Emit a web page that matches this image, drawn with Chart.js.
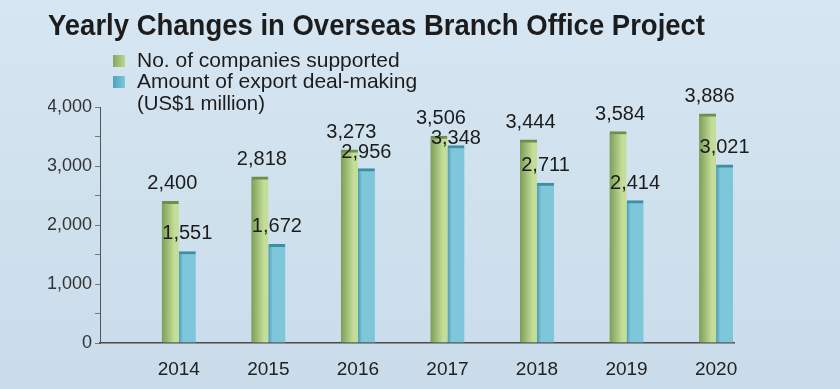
<!DOCTYPE html>
<html>
<head>
<meta charset="utf-8">
<script src="https://cdn.jsdelivr.net/npm/chart.js@4"></script>
<style>
  html, body { margin: 0; padding: 0; background: #d0e1ef; }
  #wrap { width: 840px; height: 389px; }
</style>
</head>
<body>
<div id="wrap"><canvas id="canvas-chart"></canvas></div>
<script>
const years = [2014, 2015, 2016, 2017, 2018, 2019, 2020];
const companies = [2400, 2818, 3273, 3506, 3444, 3584, 3886];
const exportDeals = [1551, 1672, 2956, 3348, 2711, 2414, 3021];
const yTicks = [0, 1000, 2000, 3000, 4000];

const chartTitle = 'Yearly Changes in Overseas Branch Office Project';
const legendLines = ['No. of companies supported', 'Amount of export deal-making', '(US$1 million)'];

const FONT = '"Liberation Sans", Arial, sans-serif';

// horizontal shading across each bar, like the printed 3D bars
function barFill(dark, light, side) {
    return (c) => {
        const chart = c.chart;
        if (!chart.chartArea || c.dataIndex === undefined) return light;
        const cx = chart.scales.x.getPixelForValue(years[c.dataIndex]);
        const x0 = side === 0 ? cx - 17 : cx;
        const g = chart.ctx.createLinearGradient(x0, 0, x0 + 17, 0);
        g.addColorStop(0, dark);
        g.addColorStop(side === 0 ? 0.75 : 0.25, light);
        g.addColorStop(1, light);
        return g;
    };
}

const pagePlugin = {
    id: 'page',
    beforeDraw(chart) {
        const {ctx, width, height} = chart;
        const g = ctx.createLinearGradient(0, 0, 0, height);
        g.addColorStop(0, '#d6e6f2');
        g.addColorStop(1, '#cadcea');
        ctx.save();
        ctx.fillStyle = g;
        ctx.fillRect(0, 0, width, height);
        ctx.restore();
    },
    afterDraw(chart) {
        const ctx = chart.ctx;
        ctx.save();
        // title
        ctx.fillStyle = '#1c1c1c';
        ctx.font = 'bold 30px ' + FONT;
        ctx.textBaseline = 'alphabetic';
        ctx.textAlign = 'left';
        ctx.fillText(chartTitle, 48, 35, 657);

        // legend
        const sq = [['#86a660', '#bcd890'], ['#4fa3ba', '#80c8dc']];
        ctx.font = '21px ' + FONT;
        const rows = [67, 88, 110];
        const widths = [266, 295, 128];
        for (let i = 0; i < 2; i++) {
            const g = ctx.createLinearGradient(113, 0, 125, 0);
            g.addColorStop(0, sq[i][0]);
            g.addColorStop(1, sq[i][1]);
            ctx.fillStyle = g;
            ctx.fillRect(113, rows[i] - 12, 12, 12);
        }
        ctx.fillStyle = '#1c1c1c';
        legendLines.forEach((t, i) => ctx.fillText(t, 137, rows[i], widths[i]));
        ctx.restore();
    },
    afterDatasetsDraw(chart) {
        const ctx = chart.ctx;
        ctx.save();
        ctx.font = '20px ' + FONT;
        ctx.fillStyle = '#1c1c1c';
        ctx.textAlign = 'center';
        ctx.textBaseline = 'alphabetic';
        const green = chart.getDatasetMeta(0).data;
        const blue = chart.getDatasetMeta(1).data;
        green.forEach((el, i) => {
            const gy = el.y - 12;
            ctx.fillText(companies[i].toLocaleString('en-US'), el.x + 2, gy);
            // keep the second label clear of the first one
            const b = blue[i];
            const by = Math.max(b.y - 12, gy + 20);
            ctx.fillText(exportDeals[i].toLocaleString('en-US'), b.x, by);
        });
        ctx.restore();
    }
};

const ctx = document.getElementById('canvas-chart');

new Chart(ctx, {
    type: 'bar',
    data: {
        datasets: [{
            label: legendLines[0],
            data: years.map((y, i) => ({x: y, y: companies[i]})),
            backgroundColor: barFill('#7d9d57', '#c4de98', 0),
            borderColor: '#6f8d4c',
            borderWidth: {top: 3, left: 0, right: 0, bottom: 0},
            borderSkipped: 'bottom',
            barThickness: 17
        }, {
            label: legendLines[1] + ' ' + legendLines[2],
            data: years.map((y, i) => ({x: y, y: exportDeals[i]})),
            backgroundColor: barFill('#4c9bb1', '#7ec7db', 1),
            borderColor: '#3f8ea4',
            borderWidth: {top: 3, left: 0, right: 0, bottom: 0},
            borderSkipped: 'bottom',
            barThickness: 17
        }]
    },
    options: {
        responsive: true,
        maintainAspectRatio: false,
        animation: false,
        layout: {
            padding: {left: 48, top: 107, right: 106, bottom: 0}
        },
        scales: {
            x: {
                type: 'linear',
                offset: false,
                min: 2013.12,
                max: 2020.2,
                afterFit: (s) => { s.height = 46; },
                grid: {display: false},
                border: {color: '#4a4a4a', width: 1.5},
                ticks: {
                    stepSize: 1,
                    includeBounds: false,
                    autoSkip: false,
                    maxRotation: 0,
                    padding: 7,
                    color: '#222',
                    font: {family: FONT, size: 19},
                    callback: (v) => String(v)
                }
            },
            y: {
                min: 0,
                max: 4000,
                afterFit: (s) => { s.width = 52; },
                grid: {drawOnChartArea: false, drawTicks: true, tickLength: 5, color: '#777'},
                border: {color: '#555', width: 1},
                ticks: {
                    stepSize: 500,
                    padding: 3,
                    color: '#333',
                    font: {family: FONT, size: 18},
                    callback: (v) => yTicks.includes(v) ? v.toLocaleString('en-US') : ''
                }
            }
        },
        plugins: {
            legend: {display: false},
            tooltip: {enabled: false}
        }
    },
    plugins: [pagePlugin]
});
</script>
</body>
</html>
